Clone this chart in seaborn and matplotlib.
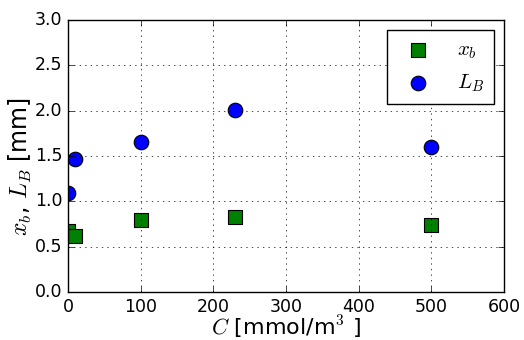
import matplotlib
matplotlib.use("Agg")
import matplotlib.pyplot as plt
import seaborn as sns
import pandas as pd

# concentration C [mmol/m^3]
conc_xb = [0, 10, 100, 230, 500]
xb = [0.67, 0.62, 0.80, 0.83, 0.74]

conc_lb = [0, 10, 100, 230, 500]
lb = [1.09, 1.47, 1.65, 2.01, 1.60]

plt.style.use('classic')
plt.rcParams['figure.facecolor'] = 'white'
plt.rcParams['savefig.facecolor'] = 'white'

df_xb = pd.DataFrame({"C": conc_xb, "val": xb})
df_lb = pd.DataFrame({"C": conc_lb, "val": lb})

fig = plt.figure(figsize=(5.24, 3.4), dpi=100)
ax = fig.add_axes([0.130, 0.141, 0.832, 0.800])

sns.scatterplot(data=df_xb, x="C", y="val", marker="s", s=110, color="green",
                edgecolor="black", linewidth=0.8, label=r"$x_b$", ax=ax, zorder=2)
sns.scatterplot(data=df_lb, x="C", y="val", marker="o", s=110, color="blue",
                edgecolor="black", linewidth=0.8, label=r"$L_B$", ax=ax, zorder=2)

ax.set_xlim(0, 600)
ax.set_ylim(0, 3.0)
ax.set_xticks(range(0, 601, 100))
ax.set_yticks([0.0, 0.5, 1.0, 1.5, 2.0, 2.5, 3.0])
ax.grid(True, linestyle=':', color='k')
ax.set_axisbelow(False)
ax.tick_params(labelsize=12.5, pad=4)

ax.set_xlabel(r"$C$ [mmol/m$^3$ ]", fontsize=16)
ax.set_ylabel(r"$x_b$, $L_B$ [mm]", fontsize=17)
ax.xaxis.set_label_coords(0.5, -0.079)
ax.yaxis.set_label_coords(-0.078, 0.463)

leg = ax.legend(loc="upper right", scatterpoints=1, fontsize=15,
                borderpad=0.45, labelspacing=0.55, handletextpad=0.9)
leg.get_frame().set_edgecolor('black')

fig.savefig("out.png", dpi=100)
